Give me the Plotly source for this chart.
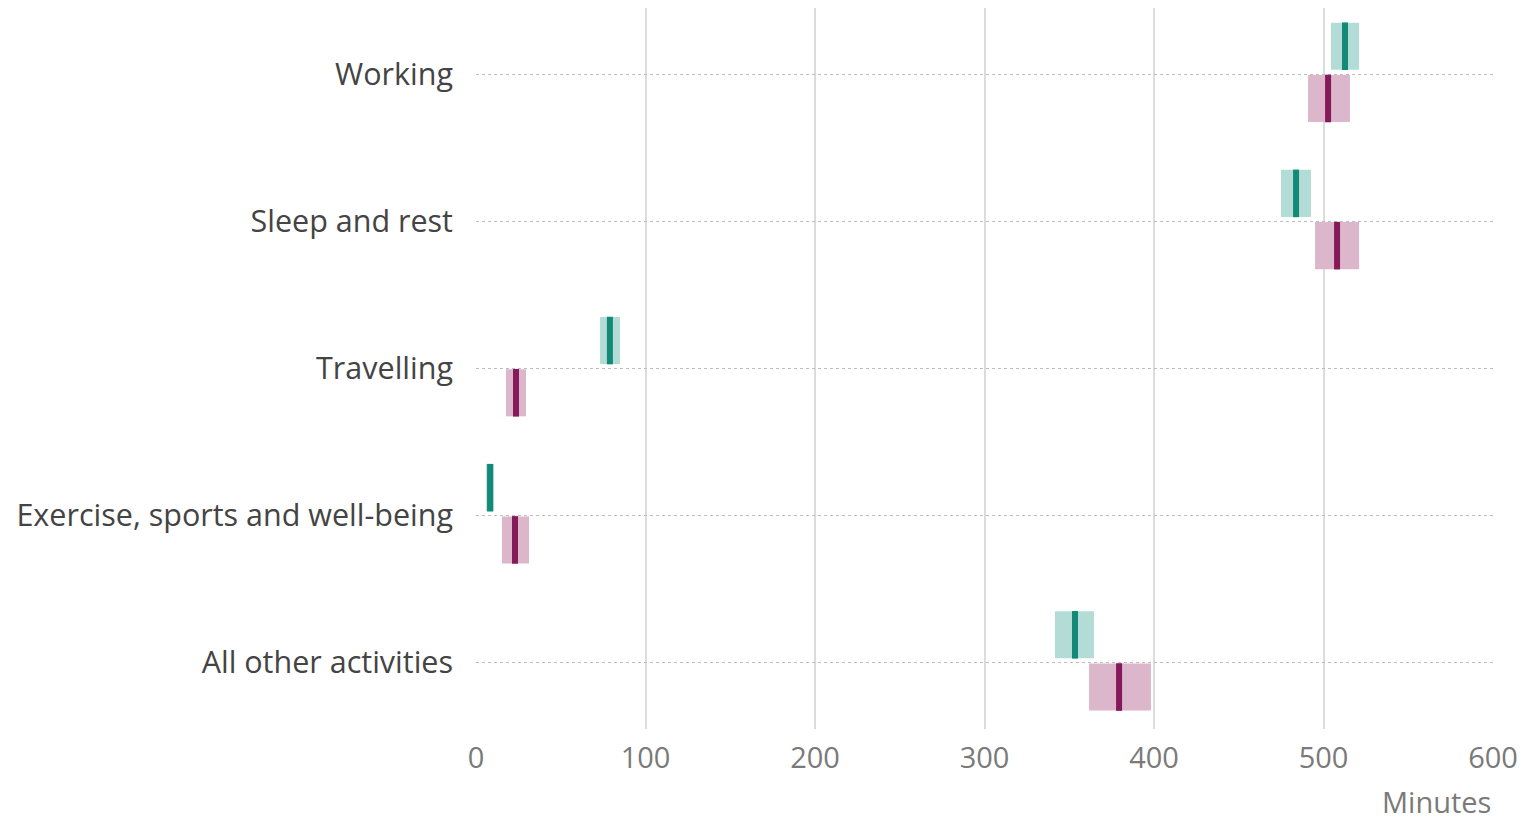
import plotly.graph_objects as go

categories = ["Working", "Sleep and rest", "Travelling", "Exercise, sports and well-being", "All other activities"]

teal_est = [512.7, 483.8, 79.0, 8.3, 353.4]
teal_low = [504.4, 474.9, 73.2, 6.0, 341.6]
teal_high = [521.0, 492.6, 85.0, 10.6, 364.6]

pink_est = [502.7, 508.0, 23.6, 23.0, 379.4]
pink_low = [490.9, 495.0, 17.7, 15.3, 361.7]
pink_high = [515.6, 521.0, 29.5, 31.3, 398.2]

TEAL_DARK = "#138a78"
TEAL_LIGHT = "#b2dcd5"
PINK_DARK = "#86195a"
PINK_LIGHT = "#dcb6cb"

pos = list(range(len(categories)))
teal_y = [p - 0.19 for p in pos]
pink_y = [p + 0.165 for p in pos]

fig = go.Figure()

fig.add_trace(go.Bar(
    orientation="h", y=teal_y, base=teal_low,
    x=[h - l for h, l in zip(teal_high, teal_low)],
    width=0.32, marker=dict(color=TEAL_LIGHT, line=dict(width=0)),
    showlegend=False, hoverinfo="skip"))
fig.add_trace(go.Bar(
    orientation="h", y=pink_y, base=pink_low,
    x=[h - l for h, l in zip(pink_high, pink_low)],
    width=0.32, marker=dict(color=PINK_LIGHT, line=dict(width=0)),
    showlegend=False, hoverinfo="skip"))

fig.add_trace(go.Scatter(
    x=teal_est, y=teal_y, mode="markers",
    marker=dict(symbol="line-ns", size=34, line=dict(width=6, color=TEAL_DARK)),
    showlegend=False))
fig.add_trace(go.Scatter(
    x=pink_est, y=pink_y, mode="markers",
    marker=dict(symbol="line-ns", size=34, line=dict(width=6, color=PINK_DARK)),
    showlegend=False))

fig.update_layout(
    width=1527, height=821,
    margin=dict(l=476, r=34, t=8, b=92),
    plot_bgcolor="white", paper_bgcolor="white",
    barmode="overlay",
    font=dict(family="Open Sans", color="#444"),
    xaxis=dict(
        range=[0, 600], tickvals=[0, 100, 200, 300, 400, 500, 600],
        showgrid=True, gridcolor="#dcdcdc", gridwidth=2,
        zeroline=False, showline=False, ticks="",
        tickfont=dict(size=29, color="#7a7a7a"),
        ticklabelstandoff=9,
    ),
    yaxis=dict(
        range=[4.45, -0.45], tickvals=pos, ticktext=categories,
        showgrid=True, gridcolor="#bdbdbd", gridwidth=1, griddash="dot",
        zeroline=False, showline=False, ticks="",
        tickfont=dict(size=30.5, color="#444"),
        ticklabelstandoff=22,
    ),
    annotations=[dict(
        text="Minutes", xref="paper", yref="paper", x=1, y=0,
        xanchor="right", yanchor="middle", yshift=-72, showarrow=False,
        font=dict(size=29, color="#7a7a7a"))],
)

fig.write_html("out.html")
